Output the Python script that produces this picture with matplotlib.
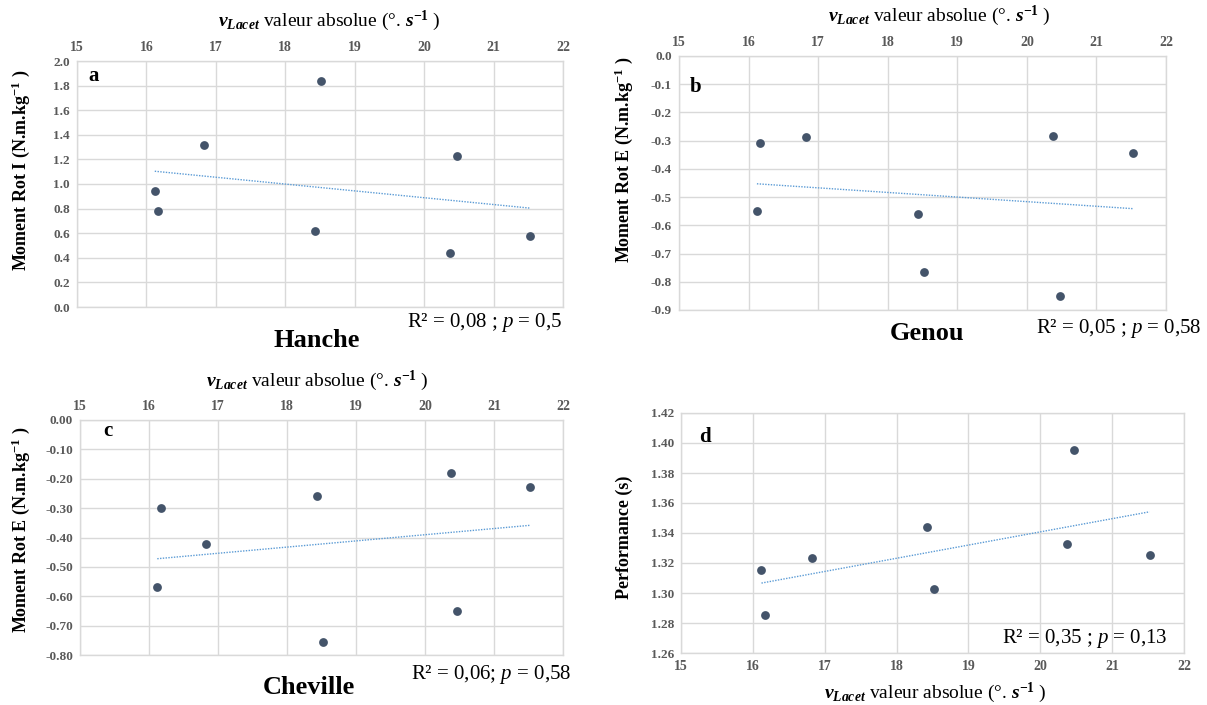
import numpy as np
import matplotlib
matplotlib.use("Agg")
import matplotlib.pyplot as plt

# ---- data ----
vitesse = [16.12, 16.17, 16.83, 18.43, 18.52, 20.37, 20.47, 21.52]
hanche = [0.94, 0.78, 1.32, 0.62, 1.84, 0.44, 1.23, 0.58]
genou = [-0.548, -0.309, -0.286, -0.560, -0.764, -0.282, -0.849, -0.342]
cheville = [-0.570, -0.301, -0.422, -0.259, -0.757, -0.182, -0.649, -0.228]
performance = [1.3156, 1.2856, 1.3233, 1.3442, 1.3024, 1.3327, 1.3953, 1.3251]

x_ticks = [15, 16, 17, 18, 19, 20, 21, 22]
y_ticks_a = [0.0, 0.2, 0.4, 0.6, 0.8, 1.0, 1.2, 1.4, 1.6, 1.8, 2.0]
y_ticks_b = [0.0, -0.1, -0.2, -0.3, -0.4, -0.5, -0.6, -0.7, -0.8, -0.9]
y_ticks_c = [0.0, -0.1, -0.2, -0.3, -0.4, -0.5, -0.6, -0.7, -0.8]
y_ticks_d = [1.26, 1.28, 1.30, 1.32, 1.34, 1.36, 1.38, 1.40, 1.42]

letters = ["a", "b", "c", "d"]
joints = ["Hanche", "Genou", "Cheville", ""]
stats = ["R² = 0,08 ; $p$ = 0,5", "R² = 0,05 ; $p$ = 0,58",
         "R² = 0,06; $p$ = 0,58", "R² = 0,35 ; $p$ = 0,13"]
ylabels = [r"Moment Rot I (N.m.kg$^{\mathbf{-1}}$ )",
           r"Moment Rot E (N.m.kg$^{\mathbf{-1}}$ )",
           r"Moment Rot E (N.m.kg$^{\mathbf{-1}}$ )",
           "Performance (s)"]
xlabel = r"$\mathbfit{v}_{\mathbfit{Lacet}}$ valeur absolue (°. $\mathbfit{s}^{\mathbf{-1}}$ )"

plt.rcParams["font.family"] = ["Liberation Serif", "DejaVu Serif"]
plt.rcParams["mathtext.fontset"] = "custom"
plt.rcParams["mathtext.rm"] = "Liberation Serif"
plt.rcParams["mathtext.it"] = "Liberation Serif:italic"
plt.rcParams["mathtext.bf"] = "Liberation Serif:bold"
try:
    plt.rcParams["mathtext.bfit"] = "Liberation Serif:bold:italic"
except KeyError:
    pass

W, H = 1207, 705
fig = plt.figure(figsize=(W / 100, H / 100), dpi=100)


def fx(px):
    return px / W


def fy(py):
    return 1 - py / H


GRID = "#d9d9d9"
MARK = "#44546a"
TREND = "#5b9bd5"
TICK = "#595959"

# panel geometry in pixels: left, right, top, bottom
boxes = [(77, 563, 61, 307), (679, 1166, 56, 310), (80, 563, 420, 655), (681, 1184, 413, 653)]
series = [hanche, genou, cheville, performance]
yticks = [y_ticks_a, y_ticks_b, y_ticks_c, y_ticks_d]
yfmt = ["{:.1f}", "{:.1f}", "{:.2f}", "{:.2f}"]
top_axis = [True, True, True, False]

letter_pos = [(94, 76), (696, 87), (108, 431), (705, 437)]
joint_pos = [(317, 341), (927, 333), (309, 687), (0, 0)]
stat_pos = [(562, 323), (1201, 328), (571, 675), (1168, 638)]
ylab_pos = [(21, 170), (624, 160), (21, 530), (624, 537)]
xlab_pos = [(329, 21), (939, 16), (317, 381), (935, 693)]

for i in range(4):
    l, r, t, b = boxes[i]
    ax = fig.add_axes([fx(l), fy(b), fx(r - l), (b - t) / H])
    yt = yticks[i]
    ax.set_xlim(x_ticks[0], x_ticks[-1])
    ax.set_ylim(min(yt), max(yt))
    ax.set_xticks(x_ticks)
    ax.set_yticks(yt)
    ax.set_xticklabels([str(v) for v in x_ticks])
    ax.set_yticklabels([yfmt[i].format(v) if abs(v) > 1e-9 else yfmt[i].format(0.0) for v in yt])
    ax.grid(True, color=GRID, lw=1.0)
    ax.set_axisbelow(True)
    for s in ax.spines.values():
        s.set_color(GRID)
        s.set_linewidth(1.0)
    if top_axis[i]:
        ax.xaxis.tick_top()
    ax.tick_params(axis="y", length=0, colors=TICK, labelsize=9.5, pad=5)
    ax.tick_params(axis="x", length=0, colors=TICK, labelsize=10, pad=5)
    for tk in ax.xaxis.get_major_ticks() + ax.yaxis.get_major_ticks():
        tk.label1.set_fontweight("bold")
        tk.label2.set_fontweight("bold")
    ax.scatter(vitesse, series[i], s=40, color=MARK, zorder=3, linewidths=0)
    coef = np.polyfit(vitesse, series[i], 1)
    xs = np.array([min(vitesse), max(vitesse)])
    ax.plot(xs, np.polyval(coef, xs), ls=(0, (1, 1)), color=TREND, lw=1.0, zorder=2)

    lx, ly = letter_pos[i]
    fig.text(fx(lx), fy(ly), letters[i], ha="center", va="center", fontsize=15, fontweight="bold")
    if joints[i]:
        jx, jy = joint_pos[i]
        fig.text(fx(jx), fy(jy), joints[i], ha="center", va="center", fontsize=19, fontweight="bold")
    sx, sy = stat_pos[i]
    fig.text(fx(sx), fy(sy), stats[i], ha="right", va="center", fontsize=15)
    yx, yy = ylab_pos[i]
    fig.text(fx(yx), fy(yy), ylabels[i], ha="center", va="center", rotation=90,
             fontsize=13, fontweight="bold")
    tx, ty = xlab_pos[i]
    fig.text(fx(tx), fy(ty), xlabel, ha="center", va="center", fontsize=14)

fig.savefig("out.png", dpi=100)
